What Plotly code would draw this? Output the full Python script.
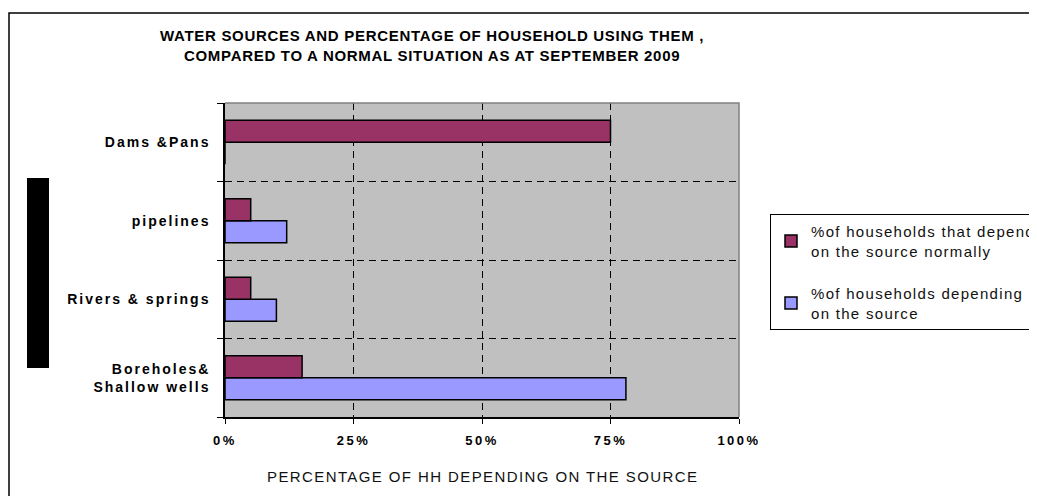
import plotly.graph_objects as go

# ==========================================================
# DATA
# ==========================================================
sources = ["Boreholes&<br>Shallow wells", "Rivers & springs", "pipelines", "Dams &Pans"]
pct_normal = [15, 5, 5, 75]      # % of households that depend on the source normally
pct_now = [78, 10, 12, 0]        # % of households depending on the source (Sept 2009)
x_ticks = [0, 25, 50, 75, 100]
x_labels = ["0%", "25%", "50%", "75%", "100%"]

name_normal = "%of households that depend<br>on the source normally"
name_now = "%of households depending<br>on the source"

title_text = ("WATER SOURCES AND PERCENTAGE OF HOUSEHOLD USING THEM ,<br>"
              "COMPARED TO A NORMAL SITUATION AS AT SEPTEMBER 2009")
x_title = "PERCENTAGE OF HH DEPENDING ON THE SOURCE"

FONT = "Liberation Sans, Arial, sans-serif"
W, H = 1037, 496
OFF = 8                                   # page body margin
L, R, T, B = 225 - OFF, 739 - OFF, 103 - OFF, 417 - OFF   # plot area (figure px)


def px_x(p):
    # page pixel -> paper x
    return (p - OFF - L) / (R - L)


def px_y(p):
    # page pixel -> paper y
    return 1 - (p - OFF - T) / (B - T)


def spaced(text, ls):
    # letter spaced text, line by line
    return "<br>".join(f'<span style="letter-spacing:{ls}px">{t}</span>'
                       for t in text.split("<br>"))


# ==========================================================
# FIGURE
# ==========================================================
fig = go.Figure()

# blue first so it sits below the magenta bar in each group
fig.add_trace(go.Bar(
    y=sources, x=pct_now, orientation="h", name=spaced(name_now, 1.3),
    legendgroup="now", legendrank=2,
    marker=dict(color="#9999FF", line=dict(color="black", width=1.5)),
))
fig.add_trace(go.Bar(
    y=sources, x=pct_normal, orientation="h", name=spaced(name_normal, 1.3),
    legendgroup="normal", legendrank=1,
    marker=dict(color="#993366", line=dict(color="black", width=1.5)),
))

fig.update_layout(
    width=W, height=H,
    margin=dict(l=L, r=W - R, t=T, b=H - B, autoexpand=False),
    paper_bgcolor="white",
    plot_bgcolor="#C0C0C0",
    barmode="group",
    bargap=0.44,
    bargroupgap=0,
    font=dict(family=FONT, color="black"),
    showlegend=True,
    legend=dict(
        x=px_x(770), y=px_y(214), xanchor="left", yanchor="top",
        traceorder="grouped",
        bgcolor="white", bordercolor="black", borderwidth=1,
        font=dict(family=FONT, size=15, color="#111111"),
        tracegroupgap=20,
        itemwidth=30,
    ),
    xaxis=dict(
        range=[0, 100], tickvals=x_ticks,
        ticktext=[spaced(t, 2.5) for t in x_labels],
        showgrid=True, gridcolor="black", griddash="7px,5px", gridwidth=1,
        showline=True, linecolor="black", linewidth=1.5,
        ticks="outside", ticklen=5, tickcolor="black",
        ticklabelstandoff=6,
        tickfont=dict(family=FONT, size=13, color="black", weight="bold"),
        zeroline=False,
    ),
    yaxis=dict(
        tickson="boundaries",
        tickvals=sources,
        ticktext=[spaced(s, 2) for s in sources],
        showgrid=True, gridcolor="black", griddash="7px,5px", gridwidth=1,
        showline=True, linecolor="black", linewidth=1.5,
        ticks="outside", ticklen=6, tickcolor="black",
        ticklabelstandoff=10,
        tickfont=dict(family=FONT, size=14, color="black", weight="bold"),
    ),
)

# title
fig.add_annotation(
    text=spaced(title_text, 0.7), xref="paper", yref="paper",
    x=px_x(432), y=px_y(45), xanchor="center", yanchor="middle",
    showarrow=False, align="center",
    font=dict(family=FONT, size=15, color="black", weight="bold"),
)

# x axis title
fig.add_annotation(
    text=spaced(x_title, 1.4), xref="paper", yref="paper",
    x=px_x(482), y=px_y(476), xanchor="center", yanchor="middle",
    showarrow=False,
    font=dict(family=FONT, size=15, color="#111111"),
)

# grey plot frame on top and right
fig.add_shape(
    type="path", xref="paper", yref="paper",
    path="M 0,1 L 1,1 L 1,0",
    line=dict(color="#808080", width=1.5), layer="above",
)

# outer chart border
fig.add_shape(
    type="rect", xref="paper", yref="paper",
    x0=px_x(9), x1=px_x(1060), y0=px_y(520), y1=px_y(13),
    line=dict(color="black", width=1.5), fillcolor="rgba(0,0,0,0)",
)

# black block on the left (collapsed axis title)
fig.add_shape(
    type="rect", xref="paper", yref="paper",
    x0=px_x(27), x1=px_x(49), y0=px_y(368), y1=px_y(178),
    line=dict(width=0), fillcolor="black",
)

fig.write_html("out.html")
